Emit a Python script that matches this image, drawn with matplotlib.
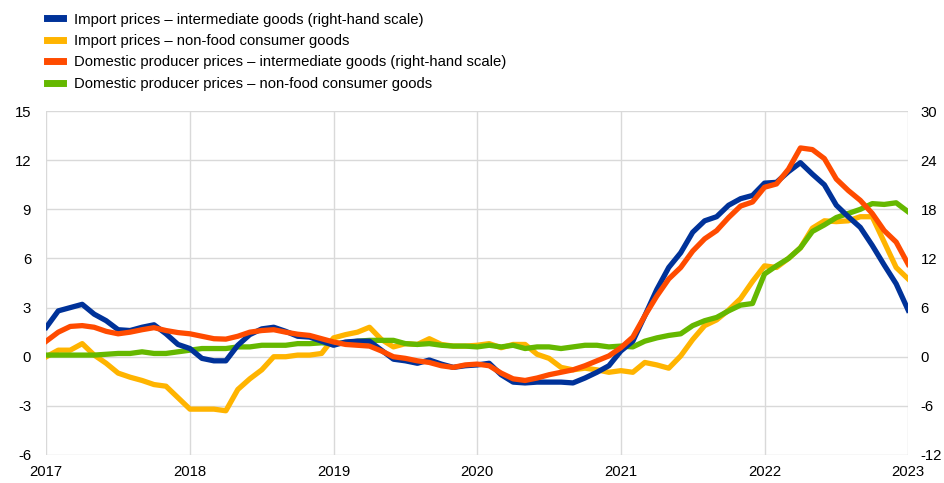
import numpy as np
import matplotlib
matplotlib.use("Agg")
from matplotlib import pyplot as plt

plt.rcParams['font.family'] = ['Liberation Sans', 'DejaVu Sans']
plt.rcParams['axes.unicode_minus'] = False

# monthly, Jan 2017 .. Jan 2023
months = 2017 + np.arange(73) / 12.0

# right-hand scale
import_intermediate = [3.6, 5.6, 6.0, 6.4, 5.2, 4.4, 3.3, 3.2, 3.6, 3.9, 2.8, 1.5,
                       1.0, -0.2, -0.5, -0.5, 1.4, 2.7, 3.4, 3.6, 3.1, 2.5, 2.4, 1.9,
                       1.4, 1.8, 1.9, 1.9, 0.8, -0.3, -0.5, -0.8, -0.4, -0.9, -1.3, -1.1,
                       -1.0, -0.8, -2.2, -3.1, -3.2, -3.1, -3.1, -3.1, -3.2, -2.6, -1.9, -1.1,
                       0.7, 1.9, 5.0, 8.2, 10.9, 12.7, 15.2, 16.6, 17.1, 18.5, 19.3, 19.7,
                       21.2, 21.3, 22.6, 23.7, 22.3, 21.0, 18.5, 17.1, 15.8, 13.6, 11.2, 8.9,
                       5.7]
domestic_intermediate = [1.9, 3.0, 3.7, 3.8, 3.6, 3.1, 2.8, 3.0, 3.3, 3.55, 3.2, 2.95,
                         2.8, 2.5, 2.2, 2.15, 2.5, 3.0, 3.2, 3.3, 3.0, 2.75, 2.6, 2.2,
                         1.8, 1.5, 1.4, 1.3, 0.7, 0.0, -0.2, -0.5, -0.7, -1.1, -1.3, -1.0,
                         -0.9, -1.1, -2.0, -2.7, -2.9, -2.6, -2.2, -1.9, -1.6, -1.1, -0.5, 0.1,
                         1.1, 2.4, 5.0, 7.4, 9.5, 10.9, 12.9, 14.4, 15.4, 17.0, 18.4, 18.9,
                         20.7, 21.1, 22.9, 25.5, 25.3, 24.2, 21.7, 20.3, 19.1, 17.5, 15.4, 14.0,
                         11.3]

# left-hand scale
import_consumer = [0.0, 0.4, 0.4, 0.8, 0.1, -0.4, -1.0, -1.25, -1.45, -1.7, -1.8, -2.5,
                   -3.2, -3.2, -3.2, -3.3, -2.0, -1.35, -0.8, 0.0, 0.0, 0.1, 0.1, 0.2,
                   1.15, 1.35, 1.5, 1.8, 1.05, 0.6, 0.8, 0.75, 1.1, 0.75, 0.65, 0.65,
                   0.7, 0.8, 0.55, 0.75, 0.75, 0.15, -0.1, -0.65, -0.8, -0.7, -0.8, -0.95,
                   -0.85, -0.95, -0.35, -0.5, -0.7, 0.05, 1.05, 1.9, 2.25, 2.85, 3.55, 4.6,
                   5.55, 5.45, 6.0, 6.65, 7.85, 8.3, 8.25, 8.3, 8.55, 8.55, 7.0, 5.45,
                   4.75]
domestic_consumer = [0.1, 0.1, 0.1, 0.1, 0.1, 0.15, 0.2, 0.2, 0.3, 0.2, 0.2, 0.3,
                     0.4, 0.5, 0.5, 0.5, 0.6, 0.6, 0.7, 0.7, 0.7, 0.8, 0.8, 0.85,
                     0.8, 0.85, 0.95, 1.0, 1.0, 1.0, 0.8, 0.75, 0.8, 0.7, 0.65, 0.65,
                     0.6, 0.7, 0.6, 0.7, 0.5, 0.6, 0.6, 0.5, 0.6, 0.7, 0.7, 0.6,
                     0.65, 0.6, 0.95, 1.15, 1.3, 1.4, 1.9, 2.2, 2.4, 2.8, 3.15, 3.25,
                     5.05, 5.55, 6.0, 6.65, 7.65, 8.05, 8.5, 8.75, 9.0, 9.35, 9.3, 9.4,
                     8.85]

labels = ['Import prices \u2013 intermediate goods (right-hand scale)',
          'Import prices \u2013 non-food consumer goods',
          'Domestic producer prices \u2013 intermediate goods (right-hand scale)',
          'Domestic producer prices \u2013 non-food consumer goods']
colors = ['#003299', '#ffb400', '#ff4b00', '#65b800']

fs = 10.7
fig = plt.figure(figsize=(9.45, 4.83), dpi=100)
ax = fig.add_axes([0.049, 0.058, 0.912, 0.712])
ax2 = ax.twinx()

lw = 3.8
l_yel, = ax.plot(months, import_consumer, color=colors[1], lw=lw, label=labels[1])
l_grn, = ax.plot(months, domestic_consumer, color=colors[3], lw=lw, label=labels[3])
l_blu, = ax2.plot(months, import_intermediate, color=colors[0], lw=lw, label=labels[0])
l_red, = ax2.plot(months, domestic_intermediate, color=colors[2], lw=lw, label=labels[2])

ax.set_xlim(2017, 2023)
ax.set_ylim(-6, 15)
ax2.set_ylim(-12, 30)
ax.set_xticks(range(2017, 2024))
ax.set_yticks(range(-6, 16, 3))
ax2.set_yticks(range(-12, 31, 6))

ax.grid(True, color='#d9d9d9', lw=1.0)
ax.set_axisbelow(True)
for a in (ax, ax2):
    for s in a.spines.values():
        s.set_visible(False)
    a.tick_params(length=0, labelsize=fs, colors='#000000')
ax.tick_params(axis='y', pad=11)
ax.tick_params(axis='x', pad=7)
ax2.tick_params(axis='y', pad=9)

fig.legend(handles=[l_blu, l_yel, l_red, l_grn], loc='upper left',
           bbox_to_anchor=(0.038, 0.997), frameon=False, fontsize=fs,
           handlelength=1.1, handletextpad=0.7, labelspacing=0.5,
           borderaxespad=0.35)
for h in fig.legends[0].legend_handles:
    h.set_linewidth(5)

fig.savefig('out.png', dpi=100)
